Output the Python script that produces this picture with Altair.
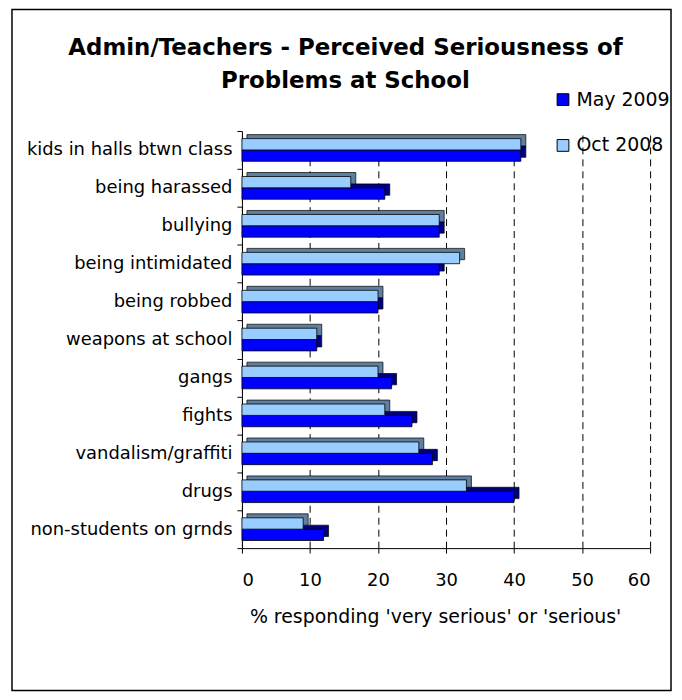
import altair as alt
import pandas as pd

FONT = "DejaVu Sans"

categories = [
    "kids in halls btwn class",
    "being harassed",
    "bullying",
    "being intimidated",
    "being robbed",
    "weapons at school",
    "gangs",
    "fights",
    "vandalism/graffiti",
    "drugs",
    "non-students on grnds",
]
may_2009 = [41, 21, 29, 29, 20, 11, 22, 25, 28, 40, 12]
oct_2008 = [41, 16, 29, 32, 20, 11, 20, 21, 26, 33, 9]
series_names = ["May 2009", "Oct 2008"]
series_colors = ["#0000FF", "#99CCFF"]
shade_colors = ["#000080", "#5F7F9F"]
x_ticks = [0, 10, 20, 30, 40, 50, 60]
title_lines = ["Admin/Teachers - Perceived Seriousness of", "Problems at School"]
x_title = "% responding 'very serious' or 'serious'"

rows = []
for c, m, o in zip(categories, may_2009, oct_2008):
    rows.append({"problem": c, "series": series_names[0], "value": m})
    rows.append({"problem": c, "series": series_names[1], "value": o})
df = pd.DataFrame(rows)

W, H = 410, 419
band = H / len(categories)
bar_h = 11.4
top = (band - 2 * bar_h) / 2
dx3, dy3 = 5, 4
offset_order = [series_names[1], series_names[0]]

y_enc = alt.Y(
    "problem:N",
    sort=categories,
    scale=alt.Scale(paddingInner=0, paddingOuter=0),
    axis=alt.Axis(
        title=None,
        tickBand="extent",
        labelFont=FONT,
        labelFontSize=18,
        labelColor="black",
        labelPadding=5,
        labelLimit=400,
        tickColor="black",
        tickSize=5,
        domainColor="black",
        domainWidth=1,
        grid=False,
    ),
)

x_enc = alt.X(
    "value:Q",
    scale=alt.Scale(domain=[0, 60], nice=False),
    axis=alt.Axis(
        values=x_ticks,
        title=x_title,
        titleFont=FONT,
        titleFontSize=19,
        titleFontWeight="normal",
        titleColor="black",
        titlePadding=18,
        titleX=194,
        labelFont=FONT,
        labelFontSize=18,
        labelColor="black",
        labelPadding=19,
        tickColor="black",
        tickSize=5,
        domainColor="black",
        grid=True,
        gridColor="black",
        gridDash=[7, 5],
        gridWidth=1,
    ),
)


def shade_layer(i):
    return (
        alt.Chart(df)
        .transform_filter(alt.datum.series == series_names[i])
        .mark_bar(color=shade_colors[i], stroke="black", strokeWidth=0.7, xOffset=dx3, x2Offset=dx3)
        .encode(
            x=x_enc,
            y=y_enc,
            yOffset=alt.YOffset(
                "series:N",
                scale=alt.Scale(domain=offset_order, range=[top - dy3, top - dy3 + 2 * bar_h],
                                paddingInner=0, paddingOuter=0),
            ),
        )
    )


main = alt.Chart(df).mark_bar(stroke="black", strokeWidth=0.8).encode(
    x=x_enc,
    y=y_enc,
    yOffset=alt.YOffset(
        "series:N",
        scale=alt.Scale(domain=offset_order, range=[top, top + 2 * bar_h], paddingInner=0, paddingOuter=0),
    ),
    color=alt.Color(
        "series:N",
        scale=alt.Scale(domain=series_names, range=series_colors),
        legend=alt.Legend(
            title=None,
            orient="none",
            legendX=313,
            legendY=-41,
            direction="vertical",
            symbolType="square",
            symbolSize=140,
            symbolStrokeColor="black",
            symbolStrokeWidth=1,
            labelFont=FONT,
            labelFontSize=19,
            labelColor="black",
            labelOffset=4,
            rowPadding=26,
            padding=0,
        ),
    ),
)


def title_line(i, y):
    return alt.Chart(pd.DataFrame({"t": [title_lines[i]]})).mark_text(
        font=FONT, fontSize=23, fontWeight="bold", color="black", align="center", baseline="alphabetic"
    ).encode(text="t:N", x=alt.value(104), y=alt.value(y))


border = alt.Chart(pd.DataFrame({"k": [0]})).mark_rect(
    fill="transparent", stroke="black", strokeWidth=1.5
).encode(
    x=alt.value(-231), x2=alt.value(431), y=alt.value(-122), y2=alt.value(562)
)

chart = (
    alt.layer(shade_layer(0), shade_layer(1), main, title_line(0, -76), title_line(1, -43), border)
    .resolve_scale(yOffset="independent")
    .properties(
        width=W,
        height=H,
        padding={"left": 235, "top": 122, "right": 24, "bottom": 146},
        autosize=alt.AutoSizeParams(type="none"),
        background="white",
    )
    .configure_view(stroke=None)
)

chart.save("out.html", embed_options={"renderer": "svg", "actions": False})
